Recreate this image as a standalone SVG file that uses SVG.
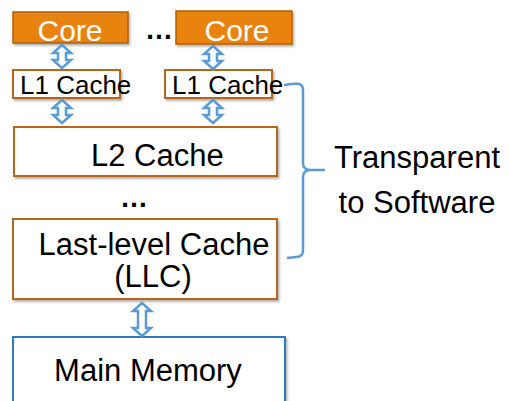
<svg xmlns="http://www.w3.org/2000/svg" width="509" height="401" viewBox="0 0 509 401">
<defs>
<filter id="sh" x="-10%" y="-10%" width="120%" height="130%"><feDropShadow dx="1.5" dy="2" stdDeviation="1.2" flood-color="#000" flood-opacity="0.3"/></filter>
<style>
text{font-family:"Liberation Sans",Arial,sans-serif;fill:#000}
.core{fill:#E8830C;stroke:#B35E08;stroke-width:1.5;filter:url(#sh)}
.box{fill:#fff;stroke:#B8651A;stroke-width:2;filter:url(#sh)}
.mem{fill:#fff;stroke:#2C7BC0;stroke-width:2;filter:url(#sh)}
.arr{fill:#fff;stroke:#5B9BD5;stroke-width:2.5;stroke-linejoin:miter}
.brace{fill:none;stroke:#5B9BD5;stroke-width:2.5}
.ct{fill:#fff;font-size:30px}
.l1{font-size:26px}
.big{font-size:31px}
.dots{font-size:28px;font-weight:bold}
</style>
</defs>
<g id="core1"><rect class="core" x="13" y="12" width="115" height="31"/><text class="ct" x="70" y="41" text-anchor="middle">Core</text></g>
<g id="core2"><rect class="core" x="176" y="11" width="116" height="33"/><text class="ct" x="237" y="41" text-anchor="middle">Core</text></g>
<g id="dots1"><text class="dots" x="159" y="39" text-anchor="middle">…</text></g>
<g id="l1a"><rect class="box" x="13" y="70" width="107" height="28"/><text class="l1" x="20" y="94">L1 Cache</text></g>
<g id="l1b"><rect class="box" x="165" y="70" width="107" height="28"/><text class="l1" x="172" y="94">L1 Cache</text></g>
<g id="l2"><rect class="box" x="14" y="127" width="263" height="49"/><text class="big" x="91" y="166">L2 Cache</text></g>
<g id="dots2"><text class="dots" x="134" y="207" text-anchor="middle">…</text></g>
<g id="llc"><rect class="box" x="13" y="219" width="264" height="80"/><text class="big" x="154" y="255" text-anchor="middle">Last-level Cache</text><text class="big" x="153" y="287" text-anchor="middle">(LLC)</text></g>
<g id="mem"><rect class="mem" x="13" y="337" width="272" height="80"/><text class="big" x="148" y="381" text-anchor="middle">Main Memory</text></g>
<g id="label"><text class="big" x="417" y="168" text-anchor="middle">Transparent</text><text class="big" x="417" y="213" text-anchor="middle">to Software</text></g>
<g id="connectors">
<polygon class="arr" points="62,45 71,53 66,53 66,60 71,60 62,68 53,60 58,60 58,53 53,53"/>
<polygon class="arr" points="213,46 222,54 217,54 217,61 222,61 213,69 204,61 209,61 209,54 204,54"/>
<polygon class="arr" points="62,100 71,108 66,108 66,115 71,115 62,123 53,115 58,115 58,108 53,108"/>
<polygon class="arr" points="213,100 222,108 217,108 217,115 222,115 213,123 204,115 209,115 209,108 204,108"/>
<polygon class="arr" points="142,303 151,311 146,311 146,328 151,328 142,336 133,328 138,328 138,311 133,311"/>
<path class="brace" d="M284,85 C296,83 303,82 303,90 L303,163 Q303,170 311,170 L325,170 M311,170 Q303,170 303,177 L303,250 Q303,257 296,257 L287,258"/>
</g>
</svg>
